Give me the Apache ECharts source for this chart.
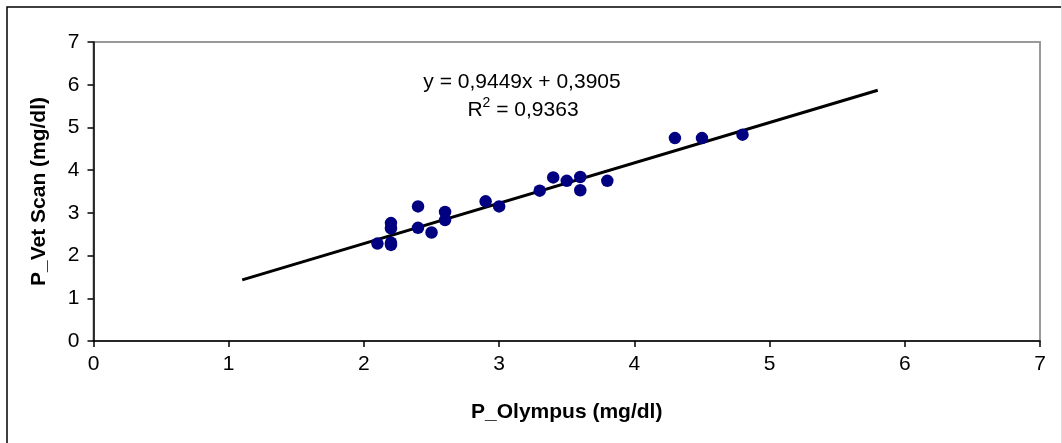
<!DOCTYPE html>
<html>
<head>
<meta charset="utf-8">
<style>
  html, body { margin: 0; padding: 0; background: #fff; }
  #chart { width: 1062px; height: 443px; }
</style>
<script src="https://cdn.jsdelivr.net/npm/echarts@6/dist/echarts.min.js"></script>
</head>
<body>
<div id="chart"></div>
<script>
// Paired phosphorus measurements: [P_Olympus, P_Vet Scan] in mg/dl
const olympusValues = [2.1, 2.2, 2.2, 2.2, 2.2, 2.4, 2.4, 2.5, 2.6, 2.6, 2.9, 3.0, 3.3, 3.4, 3.5, 3.6, 3.6, 3.8, 4.3, 4.5, 4.8];
const vetScanValues = [2.28, 2.76, 2.64, 2.30, 2.25, 3.15, 2.65, 2.54, 3.02, 2.83, 3.27, 3.15, 3.52, 3.83, 3.75, 3.84, 3.53, 3.75, 4.75, 4.75, 4.83];

// Linear trend line: y = slope * x + intercept, drawn over trendRange
const trendSlope = 0.9449;
const trendIntercept = 0.3905;
const trendRange = [1.1, 5.8];
const equationText = 'y = 0,9449x + 0,3905';
const r2Text = '0,9363';

// Axis ticks
const axisMin = 0;
const axisMax = 7;
const axisStep = 1;

const points = olympusValues.map((x, i) => [x, vetScanValues[i]]);
const trendPoints = trendRange.map(x => [x, trendSlope * x + trendIntercept]);

const FONT = '"Liberation Sans", Arial, sans-serif';

const chart = echarts.init(document.getElementById('chart'), null, { renderer: 'canvas' });

chart.setOption({
  animation: false,
  backgroundColor: '#fff',
  grid: {
    left: 93.5, right: 22, top: 42, bottom: 102,
    show: true, borderColor: '#999', borderWidth: 2, backgroundColor: 'transparent'
  },
  xAxis: {
    type: 'value', min: axisMin, max: axisMax, interval: axisStep,
    name: 'P_Olympus (mg/dl)', nameLocation: 'middle', nameGap: 61,
    nameTextStyle: { fontFamily: FONT, fontSize: 21, fontWeight: 'bold', color: '#000' },
    axisLine: { show: true, onZero: false, lineStyle: { color: '#000', width: 1.5 } },
    axisTick: { show: true, length: 6, lineStyle: { color: '#000', width: 1.5 } },
    axisLabel: { fontFamily: FONT, fontSize: 21, color: '#000', margin: 13 },
    splitLine: { show: false }
  },
  yAxis: {
    type: 'value', min: axisMin, max: axisMax, interval: axisStep,
    name: 'P_Vet Scan (mg/dl)', nameLocation: 'middle', nameGap: 44,
    nameTextStyle: { fontFamily: FONT, fontSize: 21, fontWeight: 'bold', color: '#000' },
    axisLine: { show: true, onZero: false, lineStyle: { color: '#000', width: 1.5 } },
    axisTick: { show: true, length: 6, lineStyle: { color: '#000', width: 1.5 } },
    axisLabel: { fontFamily: FONT, fontSize: 21, color: '#000', margin: 14 },
    splitLine: { show: false }
  },
  series: [
    {
      type: 'line',
      data: trendPoints,
      showSymbol: false,
      symbol: 'none',
      lineStyle: { color: '#000', width: 3 },
      z: 2
    },
    {
      type: 'scatter',
      data: points,
      symbol: 'circle',
      symbolSize: 12.5,
      itemStyle: { color: '#000080', opacity: 1 },
      z: 3
    }
  ],
  graphic: [
    {
      type: 'rect',
      shape: { x: 7, y: 7, width: 1100, height: 500 },
      style: { fill: 'none', stroke: '#000', lineWidth: 1.5 },
      silent: true, z: 10
    },
    {
      type: 'line',
      shape: { x1: 1061.5, y1: 0, x2: 1061.5, y2: 443 },
      style: { stroke: '#ddd', lineWidth: 1 },
      silent: true, z: 10
    },
    {
      type: 'text',
      x: 522, y: 82,
      style: {
        text: equationText, fontFamily: FONT, fontSize: 21, fill: '#000',
        align: 'center', verticalAlign: 'middle'
      },
      z: 5
    },
    {
      type: 'text',
      x: 523, y: 110,
      style: {
        text: 'R{sup|2} = ' + r2Text, fontFamily: FONT, fontSize: 21, fill: '#000',
        align: 'center', verticalAlign: 'middle', lineHeight: 28,
        rich: {
          sup: { fontFamily: FONT, fontSize: 14, fill: '#000', verticalAlign: 'top', lineHeight: 28 }
        }
      },
      z: 5
    }
  ]
});
</script>
</body>
</html>
